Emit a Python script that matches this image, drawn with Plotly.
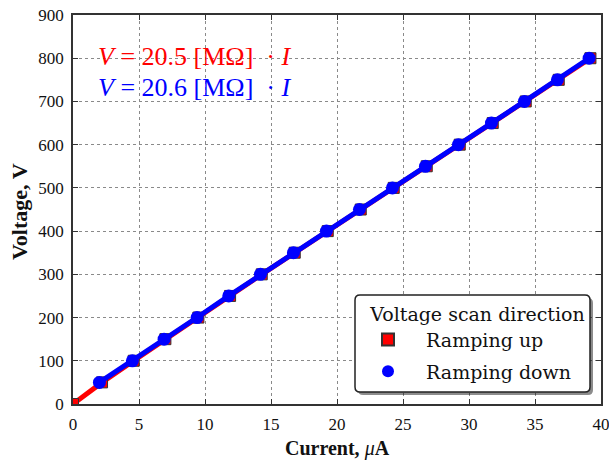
import plotly.graph_objects as go

# Data
current_up = [0.0, 2.2, 4.6, 7.0, 9.5, 11.9, 14.3, 16.8, 19.3, 21.8, 24.3, 26.8, 29.3, 31.8, 34.3, 36.8, 39.2]
voltage_up = [0, 50, 100, 150, 200, 250, 300, 350, 400, 450, 500, 550, 600, 650, 700, 750, 800]
current_down = [39.1, 36.7, 34.2, 31.7, 29.2, 26.7, 24.2, 21.7, 19.2, 16.7, 14.2, 11.8, 9.4, 6.9, 4.5, 2.0]
voltage_down = [800, 750, 700, 650, 600, 550, 500, 450, 400, 350, 300, 250, 200, 150, 100, 50]

x_ticks = [0, 5, 10, 15, 20, 25, 30, 35, 40]
y_ticks = [0, 100, 200, 300, 400, 500, 600, 700, 800, 900]

SERIF = "Liberation Serif"
SERIF2 = "DejaVu Serif"
RED = "#ff0000"
BLUE = "#0000ff"
INK = "#111111"

fig = go.Figure()
fig.add_trace(go.Scatter(x=current_up, y=voltage_up, mode="lines",
                         line=dict(color=RED, width=5), showlegend=False, hoverinfo="skip"))
fig.add_trace(go.Scatter(x=current_up, y=voltage_up, mode="markers", name="   Ramping up",
                         legendgroup="up",
                         marker=dict(symbol="square", size=11, color=RED,
                                     line=dict(color="#333333", width=1))))
fig.add_trace(go.Scatter(x=current_down, y=voltage_down, mode="lines",
                         line=dict(color=BLUE, width=5), showlegend=False, hoverinfo="skip"))
fig.add_trace(go.Scatter(x=current_down, y=voltage_down, mode="markers", name="   Ramping down",
                         legendgroup="down",
                         marker=dict(symbol="circle", size=13, color=BLUE, line=dict(width=0))))

axis_common = dict(
    showline=True, linecolor="#333333", linewidth=1.5, mirror="ticks",
    ticks="inside", ticklen=5, tickwidth=1, tickcolor="#333333",
    showgrid=True, gridcolor="#8a8a8a", griddash="dot", gridwidth=1,
    zeroline=False, automargin=False, ticklabeloverflow="allow",
    tickfont=dict(family=SERIF, size=17, color=INK),
)

fig.update_xaxes(range=[0, 40], tickvals=x_ticks, ticktext=[str(v) for v in x_ticks],
                 ticklabelstandoff=4, **axis_common)
fig.update_yaxes(range=[0, 900], tickvals=y_ticks, ticktext=[str(v) for v in y_ticks],
                 ticklabelstandoff=4, **axis_common)

# plot area spans page px 73..601 x 15..404
W, H = 528.0, 389.0
def px(x): return (x - 73) / W
def py(y): return (404 - y) / H

# Axis titles
fig.add_annotation(xref="paper", yref="paper", x=px(337), y=py(448), xanchor="center", yanchor="middle",
                   text="<b>Current, </b><i>μ</i><b>A</b>", showarrow=False,
                   font=dict(family=SERIF, size=20, color=INK))
fig.add_annotation(xref="paper", yref="paper", x=px(19), y=py(212), xanchor="center", yanchor="middle",
                   text="<b>Voltage, V</b>", showarrow=False, textangle=-90,
                   font=dict(family=SERIF, size=22, color=INK))

# Legend frame with shadow (rounded)
def rrect(x0, y0, x1, y1, rx, ry):
    return (f"M{x0+rx},{y0} L{x1-rx},{y0} Q{x1},{y0} {x1},{y0+ry} "
            f"L{x1},{y1-ry} Q{x1},{y1} {x1-rx},{y1} L{x0+rx},{y1} "
            f"Q{x0},{y1} {x0},{y1-ry} L{x0},{y0+ry} Q{x0},{y0} {x0+rx},{y0} Z")

lx0, lx1, ly0, ly1 = 355, 590, 295, 392
rx, ry = 5 / W, 5 / H
fig.add_shape(type="path", xref="paper", yref="paper",
              path=rrect(px(lx0 + 3), py(ly1 + 3), px(lx1 + 3), py(ly0 + 3), rx, ry),
              fillcolor="rgba(0,0,0,0.45)", line=dict(width=0), layer="above")
fig.add_shape(type="path", xref="paper", yref="paper",
              path=rrect(px(lx0), py(ly1), px(lx1), py(ly0), rx, ry),
              fillcolor="white", line=dict(color="#222222", width=1.5), layer="above")

fig.add_annotation(xref="paper", yref="paper", x=px(96), y=py(57), xanchor="left", yanchor="middle",
                   text="<i>V</i> = 20.5 [MΩ]  · <i>I</i>", showarrow=False,
                   font=dict(family=SERIF, size=26, color=RED))
fig.add_annotation(xref="paper", yref="paper", x=px(96), y=py(87), xanchor="left", yanchor="middle",
                   text="<i>V</i> = 20.6 [MΩ]  · <i>I</i>", showarrow=False,
                   font=dict(family=SERIF, size=26, color=BLUE))

fig.update_layout(
    width=609, height=462,
    margin=dict(l=73, r=8, t=15, b=58, autoexpand=False),
    paper_bgcolor="white", plot_bgcolor="white",
    legend=dict(x=px(368), y=py(ly0 + 1), xanchor="left", yanchor="top",
                bgcolor="rgba(0,0,0,0)", borderwidth=0,
                font=dict(family=SERIF2, size=19, color=INK),
                title=dict(text="Voltage scan direction", side="top center",
                           font=dict(family=SERIF2, size=19, color=INK)),
                tracegroupgap=4, itemsizing="constant"),
    font=dict(family=SERIF),
)

fig.write_html("out.html", config={"displayModeBar": False},
               post_script="document.body.style.margin='0px';document.body.style.overflow='hidden';")
